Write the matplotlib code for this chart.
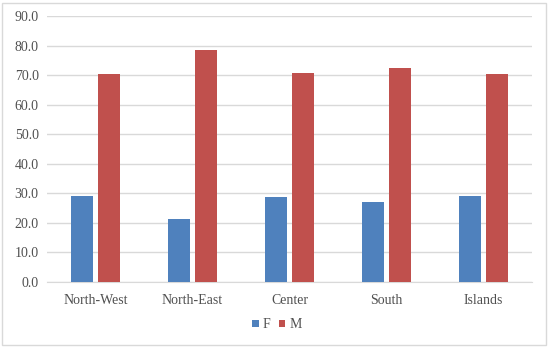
import numpy as np
import matplotlib.pyplot as plt
from matplotlib.patches import Rectangle

plt.rcParams['font.family'] = ['Liberation Serif', 'DejaVu Serif']

regions = ['North-West', 'North-East', 'Center', 'South', 'Islands']
female = [29.2, 21.2, 28.9, 27.2, 29.2]
male = [70.4, 78.4, 70.6, 72.3, 70.4]

fig = plt.figure(figsize=(5.5, 3.48), dpi=100)
ax = fig.add_axes([47 / 550, 1 - 282 / 348, (532 - 47) / 550, (282 - 16) / 348])

# outer chart border
fig.patches.append(Rectangle((2 / 550, 3 / 348), 544 / 550, 342 / 348, transform=fig.transFigure,
                             fill=False, edgecolor='#d9d9d9', linewidth=1))

x = np.arange(len(regions))
w = 0.227
gap = 0.06
ax.bar(x - (w + gap) / 2, female, w, color='#4f81bd', label='F', zorder=3)
ax.bar(x + (w + gap) / 2, male, w, color='#c0504d', label='M', zorder=3)

ax.set_xlim(-0.5, len(regions) - 0.5)
ax.set_ylim(0, 90)
ax.set_yticks(np.arange(0, 91, 10))
ax.set_yticklabels(['%.1f' % v for v in np.arange(0, 91, 10)])
ax.set_xticks(x)
ax.set_xticklabels(regions)
ax.tick_params(axis='both', length=0, labelsize=10, labelcolor='#505050')
ax.tick_params(axis='x', pad=9)
ax.tick_params(axis='y', pad=6)
ax.grid(axis='y', color='#d9d9d9', linewidth=1, zorder=0)
for s in ['top', 'right', 'left']:
    ax.spines[s].set_visible(False)
ax.spines['bottom'].set_color('#d9d9d9')

fig.legend(loc='center', bbox_to_anchor=(277 / 550, 1 - 325 / 348), ncol=2, frameon=False,
           fontsize=10, handlelength=0.45, handleheight=0.45, handletextpad=0.3, columnspacing=0.6,
           labelcolor='#505050')

fig.savefig('out.png', dpi=100)
